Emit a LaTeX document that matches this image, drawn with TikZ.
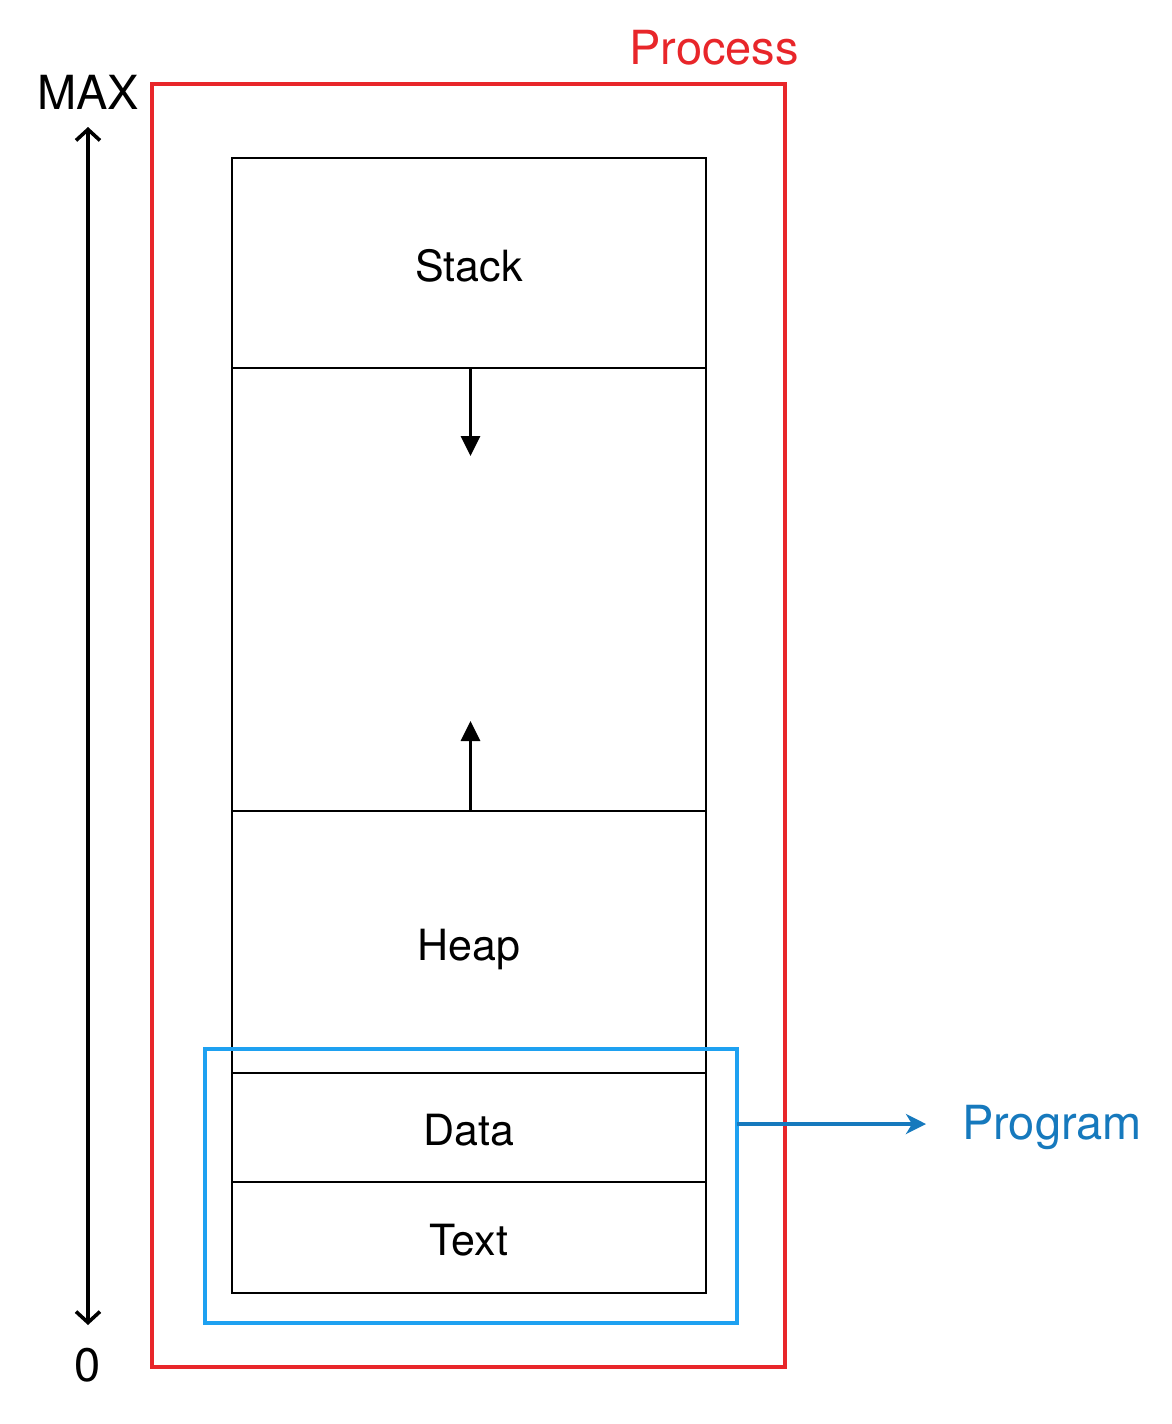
\documentclass[tikz,border=0pt]{standalone}
\usepackage{fontspec}
\setmainfont{TeX Gyre Heros}
\usetikzlibrary{arrows.meta,calc}
\definecolor{procred}{HTML}{E8262A}
\definecolor{proglight}{HTML}{1EA1F1}
\definecolor{progdark}{HTML}{1679BD}
\tikzset{
  seg/.style={draw=black, line width=2.4pt, minimum width=474pt, inner sep=0pt, text height=36pt, text depth=0pt, font=\fontsize{43}{50}\selectfont},
  bigtext/.style={inner sep=0pt, font=\fontsize{47}{54}\selectfont},
  growarrow/.style={line width=3pt, -{Triangle[length=20pt,width=19pt]}},
}
\begin{document}
\begin{tikzpicture}[x=1pt,y=-1pt]
\useasboundingbox (0,0) rectangle (1172,1424);
% process box
\node[draw=procred, line width=3.6pt, minimum width=633pt, minimum height=1283pt, inner sep=0pt] (process) at (468.5,725.5) {};
\node[bigtext, text=procred] (proclabel) at (714,48) {Process};
% segments
\node[seg, minimum height=210pt] (stack) at (469,263) {Stack};
\node[seg, minimum height=443pt] (gap) at (469,589.5) {};
\node[seg, minimum height=262pt] (heap) at (469,942) {Heap};
\node[seg, minimum height=109pt] (data) at (469,1127.5) {Data};
\node[seg, minimum height=111pt] (text) at (469,1237.5) {Text};
% growth arrows
\coordinate (stackend) at (470.5,456);
\coordinate (heapend) at (470.5,721);
\draw[growarrow] (stack.south -| stackend) -- (stackend);
\draw[growarrow] (heap.north -| heapend) -- (heapend);
% program box
\node[draw=proglight, line width=3.6pt, minimum width=532pt, minimum height=274pt, inner sep=0pt] (prog) at (471,1186) {};
\node[bigtext, text=progdark] (proglabel) at (1052,1127) {Program};
\coordinate (progstart) at (737,1124);
\coordinate (progend) at (926,1124);
\draw[progdark, line width=3.6pt, -{Stealth[length=20pt,width=20pt,inset=6pt]}] (progstart) -- (progend);
% address axis
\node[bigtext] (max) at (88,92) {MAX};
\node[bigtext] (zero) at (88,1365) {0};
\coordinate (axtop) at (88,127);
\coordinate (axbot) at (88,1325);
\draw[line width=3.6pt, {Straight Barb[length=11pt,width=24pt,line width=3.6pt]}-{Straight Barb[length=11pt,width=24pt,line width=3.6pt]}] (axtop) -- (axbot);
\end{tikzpicture}
\end{document}
